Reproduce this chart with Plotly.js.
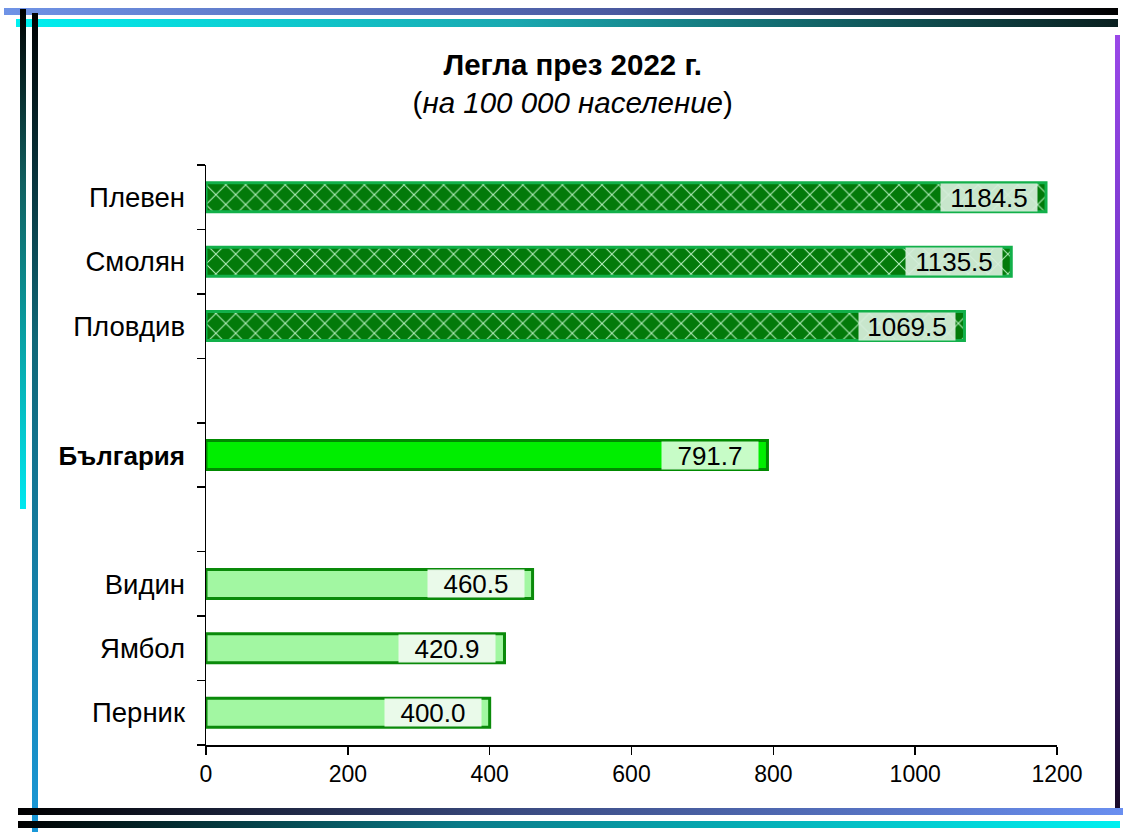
<!DOCTYPE html>
<html>
<head>
<meta charset="utf-8">
<script src="https://cdn.plot.ly/plotly-3.0.1.min.js"></script>
<style>
  html, body { margin: 0; padding: 0; background: #fff; }
  #wrap { position: relative; width: 1123px; height: 832px; overflow: hidden; background: #fff; }
  #chart { position: absolute; left: 0; top: 0; width: 1123px; height: 832px; }
  .fr { position: absolute; z-index: 5; }
</style>
</head>
<body>
<div id="wrap">
  <div id="chart"></div>
  <div class="fr" style="left:4px;top:8px;width:1114px;height:7px;background:linear-gradient(to right,#6f93e6,#4a5aa0 55%,#000 100%);"></div>
  <div class="fr" style="left:16px;top:19px;width:1102px;height:8px;background:linear-gradient(to right,#00f0f0,#1aa8b0 45%,#0a2020 100%);"></div>
  <div class="fr" style="left:20px;top:9px;width:6px;height:500px;background:linear-gradient(to bottom,#000,#106060 35%,#00e8f0 100%);"></div>
  <div class="fr" style="left:32px;top:13px;width:6px;height:819px;background:linear-gradient(to bottom,#000,#106878 40%,#1a98d8 100%);"></div>
  <div class="fr" style="left:1115px;top:35px;width:5px;height:780px;background:linear-gradient(to bottom,#9a48e8,#6a30c0 45%,#180a28 100%);"></div>
  <div class="fr" style="left:18px;top:808px;width:1105px;height:7px;background:linear-gradient(to right,#000,#3a4a80 45%,#6a8ff0 100%);"></div>
  <div class="fr" style="left:18px;top:821px;width:1102px;height:7px;background:linear-gradient(to right,#000,#0a7a88 40%,#00f0f0 100%);"></div>
</div>
<script>
// ---- data ----
var categories = ['Плевен', 'Смолян', 'Пловдив', ' ', 'България', '  ', 'Видин', 'Ямбол', 'Перник'];
var tickLabels = ['Плевен', 'Смолян', 'Пловдив', '', '<b><span style="font-size:26px">България</span></b>', '', 'Видин', 'Ямбол', 'Перник'];
var topRegions = ['Плевен', 'Смолян', 'Пловдив'];
var topValues = [1184.5, 1135.5, 1069.5];
var countryName = ['България'];
var countryValue = [791.7];
var lowRegions = ['Видин', 'Ямбол', 'Перник'];
var lowValues = [460.5, 420.9, 400.0];
var xTicks = [0, 200, 400, 600, 800, 1000, 1200];

var FONT = 'Arial, "Liberation Sans", sans-serif';
var barW = 0.45;

var traces = [
  {
    type: 'bar', orientation: 'h', y: topRegions, x: topValues, width: barW,
    marker: {
      color: '#037a0a',
      line: { color: '#12b04a', width: 3 },
      pattern: { shape: 'x', fgcolor: '#b8f0c0', bgcolor: '#037a0a', size: 14, solidity: 0.14, fillmode: 'replace' }
    },
    hoverinfo: 'x+y', showlegend: false
  },
  {
    type: 'bar', orientation: 'h', y: countryName, x: countryValue, width: barW,
    marker: { color: '#00ee00', line: { color: '#008a00', width: 3 } },
    hoverinfo: 'x+y', showlegend: false
  },
  {
    type: 'bar', orientation: 'h', y: lowRegions, x: lowValues, width: barW,
    marker: { color: '#a2f7a2', line: { color: '#0a8a0a', width: 3 } },
    hoverinfo: 'x+y', showlegend: false
  }
];

function labelAnn(name, v, bg) {
  return {
    x: v, y: name, xref: 'x', yref: 'y', xanchor: 'right', yanchor: 'middle',
    xshift: -8, text: v.toFixed(1), showarrow: false,
    font: { family: FONT, size: 26, color: '#000' },
    bgcolor: bg, width: 94, height: 25, borderpad: 1
  };
}
var annotations = [];
topRegions.forEach(function (n, i) { annotations.push(labelAnn(n, topValues[i], 'rgba(215,238,220,0.93)')); });
countryName.forEach(function (n, i) { annotations.push(labelAnn(n, countryValue[i], 'rgba(210,252,210,0.95)')); });
lowRegions.forEach(function (n, i) { annotations.push(labelAnn(n, lowValues[i], 'rgba(238,250,238,0.95)')); });

var layout = {
  width: 1123, height: 832,
  margin: { l: 206, r: 66, t: 165, b: 87, pad: 0 },
  paper_bgcolor: '#ffffff', plot_bgcolor: '#ffffff',
  font: { family: FONT, size: 22, color: '#000' },
  title: {
    text: '<b>Легла през 2022 г.</b><br>(<i>на 100 000 население</i>)',
    font: { family: FONT, size: 29.5, color: '#000' },
    x: 0.51, xref: 'container', xanchor: 'center',
    y: 0.91, yref: 'container', yanchor: 'top'
  },
  xaxis: {
    range: [0, 1200], tickvals: xTicks, ticktext: xTicks.map(String),
    showgrid: false, zeroline: false, showline: true, linecolor: '#000', linewidth: 1.5,
    ticks: 'outside', ticklen: 8, tickwidth: 1.5, tickcolor: '#000',
    tickfont: { family: FONT, size: 23, color: '#000' }, fixedrange: true
  },
  yaxis: {
    type: 'category', categoryorder: 'array', categoryarray: categories,
    tickvals: categories, ticktext: tickLabels,
    range: [8.5, -0.5], tickson: 'boundaries',
    showgrid: false, zeroline: false, showline: true, linecolor: '#000', linewidth: 1.5,
    ticks: 'outside', ticklen: 8, tickwidth: 1.5, tickcolor: '#000',
    tickfont: { family: FONT, size: 27.5, color: '#000' }, ticklabelstandoff: 14, fixedrange: true
  },
  bargap: 0.55,
  annotations: annotations,
  showlegend: false
};

Plotly.newPlot('chart', traces, layout, { displayModeBar: false, staticPlot: true });
</script>
</body>
</html>
